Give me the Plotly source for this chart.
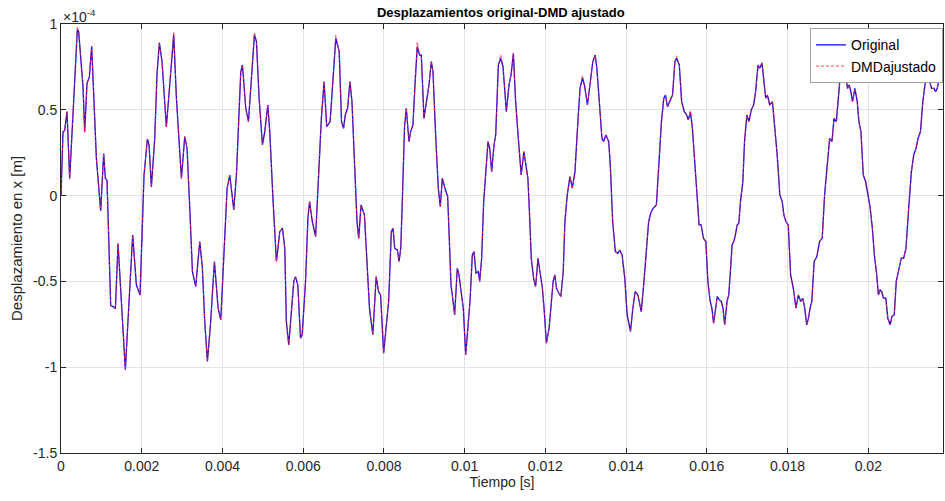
import numpy as np
import plotly.graph_objects as go

# tiempo en milisegundos, desplazamiento en unidades de 1e-4 m
tiempo_ms = [
    0.000, 0.050, 0.091, 0.149, 0.215, 0.297, 0.405, 0.438, 0.545, 0.587, 0.644, 0.702, 0.760, 0.876, 0.983,
    1.057, 1.099, 1.140, 1.231, 1.314, 1.347, 1.413, 1.495, 1.594, 1.677, 1.776, 1.867, 1.958, 2.057, 2.140,
    2.181, 2.239, 2.321, 2.379, 2.437, 2.503, 2.610, 2.693, 2.793, 2.859, 2.925, 2.983, 3.066, 3.123, 3.190,
    3.256, 3.338, 3.437, 3.503, 3.561, 3.627, 3.702, 3.801, 3.892, 3.958, 4.040, 4.115, 4.181, 4.280, 4.346,
    4.404, 4.453, 4.495, 4.577, 4.644, 4.718, 4.792, 4.842, 4.908, 4.990, 5.048, 5.123, 5.172, 5.255, 5.337,
    5.420, 5.486, 5.544, 5.583, 5.642, 5.700, 5.767, 5.808, 5.867, 5.933, 5.975, 6.058, 6.117, 6.158, 6.225,
    6.308, 6.392, 6.450, 6.517, 6.583, 6.667, 6.750, 6.808, 6.892, 6.950, 7.000, 7.042, 7.100, 7.158, 7.208,
    7.267, 7.333, 7.375, 7.433, 7.517, 7.583, 7.642, 7.725, 7.808, 7.867, 7.917, 7.992, 8.058, 8.117, 8.183,
    8.225, 8.267, 8.333, 8.375, 8.417, 8.460, 8.510, 8.554, 8.620, 8.661, 8.719, 8.769, 8.826, 8.884, 8.926,
    8.992, 9.074, 9.116, 9.174, 9.215, 9.281, 9.347, 9.397, 9.446, 9.512, 9.579, 9.628, 9.661, 9.694, 9.752,
    9.818, 9.860, 9.917, 9.967, 10.025, 10.083, 10.132, 10.190, 10.231, 10.281, 10.339, 10.372, 10.421, 10.471,
    10.521, 10.579, 10.620, 10.669, 10.727, 10.769, 10.835, 10.893, 10.950, 11.033, 11.099, 11.149, 11.207,
    11.258, 11.317, 11.375, 11.400, 11.467, 11.525, 11.567, 11.608, 11.650, 11.708, 11.758, 11.817, 11.858,
    11.925, 11.967, 12.025, 12.092, 12.150, 12.192, 12.233, 12.275, 12.333, 12.383, 12.442, 12.483, 12.542,
    12.608, 12.667, 12.733, 12.800, 12.858, 12.917, 12.967, 13.042, 13.108, 13.175, 13.233, 13.275, 13.342,
    13.400, 13.442, 13.500, 13.567, 13.608, 13.667, 13.733, 13.792, 13.842, 13.900, 13.967, 14.025, 14.108,
    14.167, 14.225, 14.292, 14.375, 14.442, 14.500, 14.558, 14.608, 14.667, 14.750, 14.808, 14.875, 14.933,
    14.975, 15.025, 15.083, 15.150, 15.208, 15.250, 15.317, 15.375, 15.442, 15.500, 15.542, 15.592, 15.642,
    15.708, 15.775, 15.808, 15.858, 15.917, 15.975, 16.025, 16.083, 16.125, 16.167, 16.208, 16.258, 16.308,
    16.358, 16.400, 16.442, 16.500, 16.542, 16.583, 16.625, 16.667, 16.708, 16.750, 16.792, 16.833, 16.892,
    16.933, 16.992, 17.042, 17.100, 17.158, 17.208, 17.267, 17.308, 17.367, 17.417, 17.458, 17.500, 17.558,
    17.625, 17.683, 17.742, 17.808, 17.867, 17.908, 17.958, 18.017, 18.075, 18.142, 18.208, 18.267, 18.325,
    18.375, 18.425, 18.475, 18.517, 18.558, 18.600, 18.658, 18.725, 18.792, 18.858, 18.917, 18.975, 19.042,
    19.100, 19.150, 19.208, 19.250, 19.292, 19.333, 19.392, 19.433, 19.483, 19.525, 19.567, 19.608, 19.667,
    19.725, 19.767, 19.817, 19.875, 19.933, 19.983, 20.042, 20.100, 20.150, 20.208, 20.250, 20.292, 20.333,
    20.375, 20.433, 20.483, 20.542, 20.583, 20.642, 20.692, 20.750, 20.817, 20.875, 20.933, 21.000, 21.067,
    21.125, 21.183, 21.233, 21.292, 21.350, 21.400, 21.458, 21.517, 21.567, 21.625, 21.667, 21.708, 21.750,
]

original_e4 = [
    0.00, 0.37, 0.38, 0.49, 0.10, 0.45, 0.965, 0.955, 0.635, 0.37, 0.655, 0.69, 0.87, 0.22, -0.09,
    0.245, 0.10, 0.09, -0.64, -0.65, -0.66, -0.28, -0.62, -1.015, -0.655, -0.23, -0.52, -0.58, 0.12, 0.33,
    0.295, 0.05, 0.33, 0.71, 0.89, 0.78, 0.40, 0.665, 0.936, 0.567, 0.276, 0.10, 0.344, 0.276, -0.074,
    -0.443, -0.53, -0.268, -0.423, -0.734, -0.967, -0.753, -0.384, -0.656, -0.724, -0.307, 0.043, 0.12, -0.083, 0.12,
    0.47, 0.72, 0.761, 0.509, 0.431, 0.703, 0.936, 0.897, 0.567, 0.295, 0.373, 0.528, 0.373, -0.035, -0.384,
    -0.21, -0.19, -0.307, -0.734, -0.87, -0.695, -0.50, -0.472, -0.52, -0.831, -0.81, -0.50, -0.132, -0.035, -0.151,
    -0.239, 0.217, 0.45, 0.664, 0.402, 0.431, 0.722, 0.917, 0.839, 0.431, 0.392, 0.47, 0.509, 0.664, 0.548,
    0.217, -0.151, -0.249, -0.054, -0.113, -0.404, -0.656, -0.811, -0.472, -0.559, -0.579, -0.918, -0.773, -0.617, -0.21,
    -0.19, -0.307, -0.317, -0.384, -0.307, 0.00, 0.40, 0.509, 0.315, 0.373, 0.412, 0.645, 0.868, 0.819, 0.819,
    0.45, 0.567, 0.645, 0.781, 0.722, 0.353, 0.043, -0.064, 0.101, 0.043, -0.006, -0.307, -0.52, -0.579, -0.695,
    -0.423, -0.462, -0.569, -0.656, -0.928, -0.734, -0.617, -0.346, -0.326, -0.452, -0.443, -0.50, -0.365, -0.035,
    0.12, 0.315, 0.276, 0.14, 0.295, 0.353, 0.761, 0.80, 0.751, 0.489, 0.645, 0.703, 0.829,
    0.567, 0.373, 0.159, 0.12, 0.256, 0.179, 0.10, -0.113, -0.365, -0.482, -0.53, -0.365, -0.443,
    -0.54, -0.656, -0.86, -0.773, -0.637, -0.50, -0.462, -0.54, -0.569, -0.588, -0.443, -0.151, 0.004,
    0.111, 0.043, 0.14, 0.412, 0.625, 0.684, 0.645, 0.528, 0.645, 0.781, 0.819, 0.742, 0.528,
    0.334, 0.315, 0.353, 0.315, 0.179, -0.151, -0.326, -0.336, -0.317, -0.346, -0.482, -0.695, -0.792,
    -0.656, -0.559, -0.579, -0.676, -0.50, -0.307, -0.151, -0.103, -0.074, -0.054, 0.179, 0.431, 0.567,
    0.586, 0.518, 0.548, 0.586, 0.781, 0.80, 0.761, 0.548, 0.489, 0.47, 0.441, 0.489, 0.392,
    0.179, -0.035, -0.171, -0.171, -0.249, -0.268, -0.50, -0.617, -0.656, -0.744, -0.656, -0.588, -0.608,
    -0.617, -0.656, -0.753, -0.617, -0.579, -0.443, -0.287, -0.268, -0.229, -0.171, -0.161, -0.035, 0.082,
    0.315, 0.47, 0.431, 0.499, 0.528, 0.606, 0.761, 0.742, 0.771, 0.664, 0.567, 0.586, 0.528,
    0.548, 0.412, 0.237, 0.004, -0.035, -0.113, -0.151, -0.171, -0.462, -0.54, -0.656, -0.579, -0.617,
    -0.598, -0.656, -0.753, -0.715, -0.656, -0.617, -0.384, -0.355, -0.268, -0.249, 0.004, 0.14, 0.334,
    0.315, 0.45, 0.431, 0.528, 0.664, 0.684, 0.742, 0.722, 0.625, 0.645, 0.606, 0.548, 0.625,
    0.548, 0.431, 0.373, 0.12, 0.082, 0.004, -0.064, -0.19, -0.346, -0.462, -0.579, -0.55, -0.559,
    -0.598, -0.598, -0.715, -0.753, -0.705, -0.695, -0.50, -0.443, -0.365, -0.365, -0.307, -0.074, 0.14,
    0.237, 0.276, 0.334, 0.373, 0.548, 0.645, 0.742, 0.664, 0.625, 0.625, 0.606, 0.625, 0.674,
]

# DMD ajustado: coincide con la original salvo en algunos picos (rojo asoma por encima)
dmd_pico_ms = [0.405, 2.793, 4.792, 6.808, 8.826, 10.893, 12.917, 15.250, 17.367]
dmd_pico_e4 = [0.985, 0.955, 0.950, 0.935, 0.895, 0.820, 0.700, 0.815, 0.780]

xtick_vals = [0, 0.002, 0.004, 0.006, 0.008, 0.01, 0.012, 0.014, 0.016, 0.018, 0.02]
xtick_text = ["0", "0.002", "0.004", "0.006", "0.008", "0.01", "0.012", "0.014", "0.016", "0.018", "0.02"]
ytick_vals = [-1.5, -1, -0.5, 0, 0.5, 1]
ytick_text = ["-1.5", "-1", "-0.5", "0", "0.5", "1"]

t = np.array(tiempo_ms) * 1e-3
orig = np.array(original_e4)
dmd = orig.copy()
for tp, vp in zip(dmd_pico_ms, dmd_pico_e4):
    dmd[tiempo_ms.index(tp)] = vp

FONT = "Liberation Sans"
INK = "#262626"
GRID = "#e3e3e3"

fig = go.Figure()
fig.add_trace(go.Scatter(x=t, y=orig, mode="lines", name="Original",
                         line=dict(color="rgb(0,0,255)", width=1.3)))
fig.add_trace(go.Scatter(x=t, y=dmd, mode="lines", name="DMDajustado",
                         line=dict(color="rgba(255,40,40,0.85)", width=1, dash="3px,2px")))

fig.update_layout(
    width=945, height=501,
    margin=dict(l=61, r=2, t=24, b=48, pad=0),
    paper_bgcolor="white", plot_bgcolor="white",
    font=dict(family=FONT, size=14, color=INK),
    title=dict(text="<b>Desplazamientos original-DMD ajustado</b>", x=0.53, xanchor="center",
               y=0.976, yanchor="middle", font=dict(family=FONT, size=13, color="black")),
    showlegend=True,
    legend=dict(x=1, xanchor="right", y=0.99, yanchor="top", bgcolor="white",
                bordercolor="#a0a0a0", borderwidth=1, font=dict(size=14, color="black"),
                itemwidth=30, tracegroupgap=0),
)
fig.update_xaxes(
    range=[0, 0.02185], tickvals=xtick_vals, ticktext=xtick_text, automargin=False,
    ticks="inside", ticklen=5, tickcolor=INK, showgrid=True, gridcolor=GRID,
    showline=True, linecolor=INK, linewidth=1, mirror="ticks", zeroline=False,
    title=dict(text="Tiempo [s]", standoff=2, font=dict(size=14)),
)
fig.update_yaxes(
    range=[-1.5, 1], tickvals=ytick_vals, ticktext=ytick_text, automargin=False,
    ticks="inside", ticklen=5, tickcolor=INK, showgrid=True, gridcolor=GRID,
    showline=True, linecolor=INK, linewidth=1, mirror="ticks", zeroline=False,
    title=dict(text="Desplazamiento en x [m]", standoff=6, font=dict(size=15)),
)
fig.add_annotation(text="\u00d710<sup>-4</sup>", xref="paper", yref="paper", x=0, y=1,
                   xanchor="left", yanchor="bottom", showarrow=False, yshift=-3,
                   font=dict(family=FONT, size=14, color=INK))

# quitar el margen por defecto del body para que la figura ocupe toda la ventana
fig.write_html("out.html", config={"displayModeBar": False},
               post_script="document.body.style.margin='0';")
